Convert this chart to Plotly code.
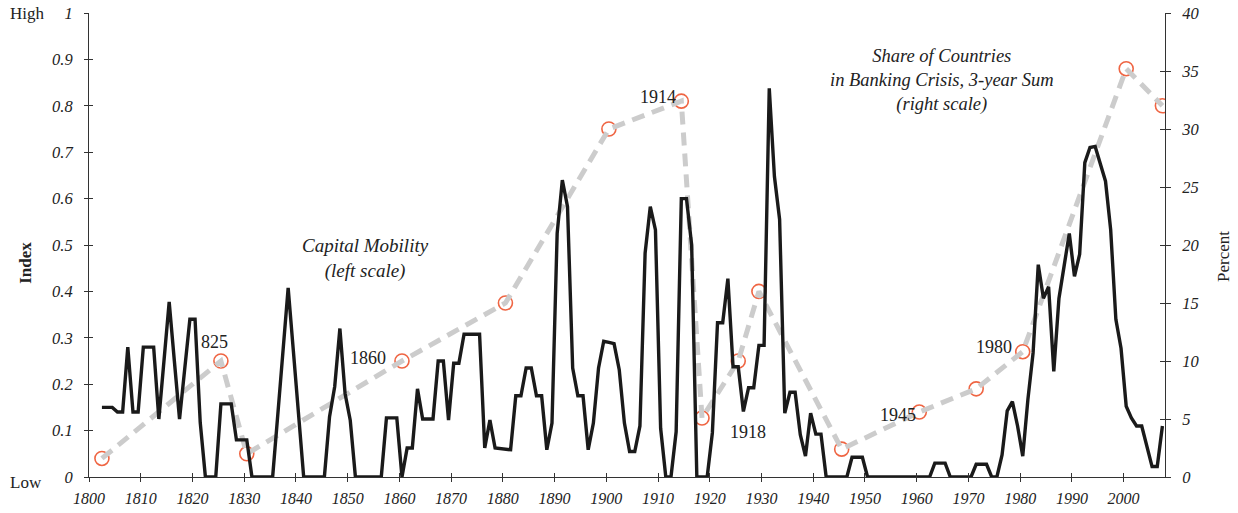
import plotly.graph_objects as go

# ---------------- data ----------------
crisis_years = list(range(1802, 2008))
crisis_share = [
    6.0, 6.0, 6.0, 5.6, 5.6, 11.2, 5.6, 5.6, 11.2, 11.2,          # 1802-1811
    11.2, 5.0, 10.0, 15.1, 10.0, 5.0, 9.3, 13.6, 13.6, 4.7,        # 1812-1821
    0, 0, 0, 6.3, 6.3, 6.3, 3.2, 3.2, 3.2, 0,                      # 1822-1831
    0, 0, 0, 0, 5.4, 10.9, 16.3, 10.9, 5.4, 0,                     # 1832-1841
    0, 0, 0, 0, 5.2, 7.8, 12.8, 7.2, 4.9, 0,                       # 1842-1851
    0, 0, 0, 0, 0, 5.1, 5.1, 5.1, 0, 2.5,                          # 1852-1861
    2.5, 7.6, 5.0, 5.0, 5.0, 10.0, 10.0, 4.9, 9.8, 9.8,            # 1862-1871
    12.3, 12.3, 12.3, 12.3, 2.5, 4.9, 2.5, 2.45, 2.4, 2.35,        # 1872-1881
    7.0, 7.0, 9.4, 9.4, 7.0, 7.0, 2.35, 4.65, 21.0, 25.6,          # 1882-1891
    23.3, 9.4, 7.0, 7.0, 2.35, 4.65, 9.4, 11.7, 11.6, 11.5,        # 1892-1901
    9.25, 4.65, 2.2, 2.2, 4.4, 19.3, 23.3, 21.3, 4.2, 0,           # 1902-1911
    0, 3.9, 24.0, 24.0, 20.0, 0, 0, 0, 3.8, 13.3,                  # 1912-1921
    13.3, 17.1, 9.5, 9.5, 5.65, 7.7, 7.7, 11.35, 11.35, 33.5,      # 1922-1931
    25.9, 22.2, 5.5, 7.3, 7.3, 3.65, 1.8, 5.5, 3.7, 3.7,           # 1932-1941
    0, 0, 0, 0, 0, 1.7, 1.7, 1.7, 0, 0,                            # 1942-1951
    0, 0, 0, 0, 0, 0, 0, 0, 0, 0,                                  # 1952-1961
    0, 1.2, 1.2, 1.2, 0, 0, 0, 0, 0, 1.1,                          # 1962-1971
    1.1, 1.1, 0, 0, 1.9, 5.7, 6.5, 4.4, 1.8, 6.7,                  # 1972-1981
    10.7, 18.3, 15.4, 16.4, 9.1, 15.4, 18.2, 21.0, 17.3, 19.2,     # 1982-1991
    27.1, 28.4, 28.5, 27.1, 25.5, 21.3, 13.6, 11.1, 6.1, 5.1,      # 1992-2001
    4.4, 4.4, 2.6, 0.9, 0.9, 4.4,                                  # 2002-2007
]

mobility_years = [1802, 1825, 1830, 1860, 1880, 1900, 1914, 1918,
                  1925, 1929, 1945, 1960, 1971, 1980, 2000, 2007]
mobility_index = [0.04, 0.25, 0.05, 0.25, 0.375, 0.75, 0.81, 0.127,
                  0.25, 0.40, 0.06, 0.14, 0.19, 0.27, 0.88, 0.80]

year_labels = [(1825, 0.292, "825"), (1860, 0.256, "1860"), (1914, 0.820, "1914"),
               (1918, 0.098, "1918"), (1945, 0.134, "1945"), (1980, 0.281, "1980")]
label_x = [1824.3, 1853.96, 1910.06, 1927.35, 1956.4, 1975.0]

x_ticks = list(range(1800, 2001, 10))

# ---------------- styling ----------------
SERIF = "Liberation Serif, Times New Roman, DejaVu Serif, serif"
AXIS_COL = "#333333"
TXT = "#222222"

# Excel-style category axis: each year sits in the middle of its slot
cx = [y + 0.5 for y in crisis_years]
mx = [y + 0.5 for y in mobility_years]

fig = go.Figure()

# markers drawn first so the dashed line runs over them
fig.add_trace(go.Scatter(
    x=mx, y=mobility_index, mode="markers", xaxis="x", yaxis="y",
    marker=dict(symbol="circle-open", size=14, color="#EF6543",
                line=dict(width=1.6, color="#EF6543")),
    showlegend=False, hoverinfo="skip"))
fig.add_trace(go.Scatter(
    x=mx, y=mobility_index, mode="lines", xaxis="x", yaxis="y",
    line=dict(color="#CCCCCC", width=5, dash="13px,8px"),
    showlegend=False))
fig.add_trace(go.Scatter(
    x=cx, y=crisis_share, mode="lines", xaxis="x", yaxis="y2",
    line=dict(color="#1A1A1A", width=3.4),
    showlegend=False))
# helpers so the overlay axes (inner half of the crossing ticks) are drawn
fig.add_trace(go.Scatter(x=[None], y=[None], xaxis="x2", yaxis="y3",
                         showlegend=False, hoverinfo="skip"))
fig.add_trace(go.Scatter(x=[None], y=[None], xaxis="x", yaxis="y4",
                         showlegend=False, hoverinfo="skip"))

for (yr, yv, txt), xv in zip(year_labels, label_x):
    fig.add_annotation(x=xv, y=yv, xref="x", yref="y", text=txt, showarrow=False,
                       xanchor="center", yanchor="middle",
                       font=dict(family=SERIF, size=18, color=TXT))

fig.add_annotation(x=1853.5, y=0.471, xref="x", yref="y",
                   text="Capital Mobility<br>(left scale)", showarrow=False,
                   xanchor="center", yanchor="middle",
                   font=dict(family=SERIF, size=19, color=TXT, style="italic"))
fig.add_annotation(x=1964.8, y=0.854, xref="x", yref="y",
                   text="Share of Countries<br>in Banking Crisis, 3-year Sum<br>(right scale)",
                   showarrow=False, xanchor="center", yanchor="middle",
                   font=dict(family=SERIF, size=18.5, color=TXT, style="italic"))

side_labels = [(-0.0567, 0.998, "High", 0), (-0.0582, -0.0116, "Low", 0),
               (-0.0598, 0.461, "<b>Index</b>", -90), (1.0542, 0.475, "Percent", -90)]
for xv, yv, txt, ang in side_labels:
    fig.add_annotation(x=xv, y=yv, xref="paper", yref="paper", text=txt,
                       textangle=ang, showarrow=False, xanchor="center",
                       yanchor="middle", font=dict(family=SERIF, size=17, color=TXT))

tickfont = dict(family=SERIF, size=16.5, color=TXT, style="italic")
common_tick = dict(tickcolor=AXIS_COL, tickwidth=1, ticklen=4)
plain = dict(showgrid=False, zeroline=False, automargin=False)

fig.update_layout(
    template="none",
    width=1238, height=513,
    margin=dict(l=89.3, r=73.3, t=13.3, b=35.7, autoexpand=False),
    plot_bgcolor="white", paper_bgcolor="white",
    showlegend=False,
    xaxis=dict(range=[1800, 2008], tickvals=x_ticks, ticks="outside", **common_tick,
               showline=True, linecolor=AXIS_COL, linewidth=1, **plain,
               tickfont=dict(family=SERIF, size=16, color=TXT, style="italic"),
               ticklabelstandoff=3),
    xaxis2=dict(range=[1800, 2008], tickvals=x_ticks, ticks="inside", **common_tick,
                overlaying="x", anchor="y", showticklabels=False, showline=False,
                **plain),
    yaxis=dict(range=[0, 1], dtick=0.1, tick0=0, ticks="outside", **common_tick,
               showline=True, linecolor=AXIS_COL, linewidth=1, **plain,
               tickfont=tickfont, ticklabelstandoff=8),
    yaxis2=dict(range=[0, 40], dtick=5, tick0=0, ticks="outside", ticklen=5,
                tickcolor=AXIS_COL, tickwidth=1, overlaying="y", side="right",
                anchor="x", showline=True, linecolor=AXIS_COL, linewidth=1,
                **plain, tickfont=tickfont, ticklabelstandoff=8),
    yaxis3=dict(range=[0, 1], dtick=0.1, tick0=0, ticks="inside", **common_tick,
                overlaying="y", anchor="x2", side="left", showticklabels=False,
                showline=False, **plain),
    yaxis4=dict(range=[0, 40], dtick=5, tick0=0, ticks="inside", ticklen=5,
                tickcolor=AXIS_COL, tickwidth=1, overlaying="y", side="right",
                anchor="x", showticklabels=False, showline=False, **plain),
)

# drop the page's default 8px body margin so the figure fills the window exactly
fig.write_html("out.html",
               config={"displayModeBar": False},
               post_script="document.body.style.margin='0';"
                           "document.body.style.overflow='hidden';")
